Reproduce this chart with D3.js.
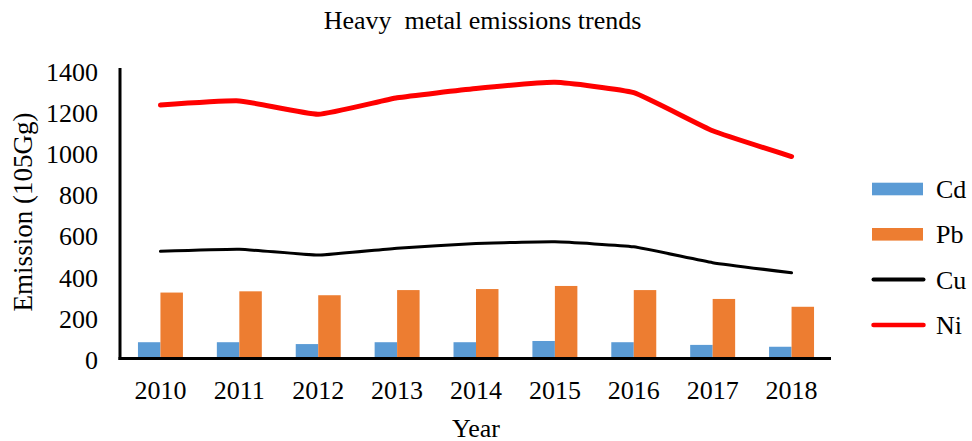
<!DOCTYPE html>
<html>
<head>
<meta charset="utf-8">
<script src="https://cdn.jsdelivr.net/npm/d3@7"></script>
<style>
  html, body { margin: 0; padding: 0; background: #fff; }
  svg, svg text { font-family: "Liberation Serif", "Times New Roman", serif !important; fill: #000; }
</style>
</head>
<body>
<svg id="chart" width="972" height="441" font-family="Liberation Serif"></svg>
<script>
const years = ["2010","2011","2012","2013","2014","2015","2016","2017","2018"];
const cd = [79, 79, 70, 79, 79, 85, 79, 66, 57];
const pb = [320, 326, 307, 332, 337, 352, 332, 289, 251];
const cu = [520, 530, 502, 535, 558, 566, 542, 465, 416];
const ni = [1230, 1250, 1185, 1265, 1310, 1340, 1290, 1105, 980];
const yTicks = [0, 200, 400, 600, 800, 1000, 1200, 1400];
const title = "Heavy  metal emissions trends";
const xTitle = "Year";
const yTitle = "Emission (105Gg)";
const barSeries = [
  { name: "Cd", values: cd, color: "#5B9BD5" },
  { name: "Pb", values: pb, color: "#ED7D31" }
];
const lineSeries = [
  { name: "Cu", values: cu, color: "#000000", width: 3 },
  { name: "Ni", values: ni, color: "#FF0000", width: 5 }
];

const FONT = "'Liberation Serif', 'Times New Roman', serif";
const svg = d3.select("#chart");

const x = d3.scaleBand().domain(years).range([121, 831]).padding(0);
const x1 = d3.scaleBand().domain(barSeries.map(d => d.name))
  .range([x.bandwidth() * 0.215, x.bandwidth() * 0.785]).padding(0);
const y = d3.scaleLinear().domain([0, 1400]).range([358.5, 70]);

// title
svg.append("text")
  .attr("x", 482.5).attr("y", 28.5)
  .attr("text-anchor", "middle")
  .attr("font-family", FONT)
  .style("font-size", "26px")
  .style("white-space", "pre")
  .attr("xml:space", "preserve")
  .text(title);

// bars
barSeries.forEach(s => {
  svg.append("g").selectAll("rect")
    .data(s.values.map((v, i) => ({ year: years[i], v })))
    .join("rect")
    .attr("x", d => x(d.year) + x1(s.name))
    .attr("width", x1.bandwidth())
    .attr("y", d => y(d.v))
    .attr("height", d => y(0) - y(d.v))
    .attr("fill", s.color);
});

// lines
lineSeries.forEach(s => {
  const line = d3.line()
    .x((d, i) => x(years[i]) + x.bandwidth() / 2)
    .y(d => y(d))
    .curve(d3.curveCardinal.tension(0.6));
  svg.append("path")
    .datum(s.values)
    .attr("d", line)
    .attr("fill", "none")
    .attr("stroke", s.color)
    .attr("stroke-width", s.width)
    .attr("stroke-linecap", "round")
    .attr("stroke-linejoin", "round");
});

// y axis
const yAxis = d3.axisLeft(y).tickValues(yTicks).tickSize(0).tickPadding(22).tickFormat(d3.format("d"));
const gy = svg.append("g").attr("transform", "translate(120,0)").call(yAxis);
gy.attr("font-family", FONT).attr("font-size", 26);
gy.select(".domain").remove();
gy.selectAll("text")
  .attr("font-family", FONT)
  .style("font-size", "26px")
  .attr("dy", null)
  .attr("y", 10);
svg.append("line")
  .attr("x1", 120).attr("x2", 120)
  .attr("y1", y(1400) - 2).attr("y2", y(0) + 1.5)
  .attr("stroke", "#000").attr("stroke-width", 3);

// x axis
const xAxis = d3.axisBottom(x).tickSize(0).tickPadding(0);
const gx = svg.append("g").attr("transform", `translate(0,${y(0)})`).call(xAxis);
gx.attr("font-family", FONT).attr("font-size", 26);
gx.select(".domain").remove();
gx.selectAll("text")
  .attr("font-family", FONT)
  .style("font-size", "26px")
  .attr("dy", null)
  .attr("y", 399 - y(0));
svg.append("line")
  .attr("x1", 118.5).attr("x2", 831)
  .attr("y1", y(0)).attr("y2", y(0))
  .attr("stroke", "#000").attr("stroke-width", 3);

// axis titles
svg.append("text")
  .attr("x", 476).attr("y", 436.5)
  .attr("text-anchor", "middle")
  .attr("font-family", FONT)
  .style("font-size", "26px")
  .text(xTitle);
svg.append("text")
  .attr("transform", "translate(32,212) rotate(-90)")
  .attr("text-anchor", "middle")
  .attr("font-family", FONT)
  .style("font-size", "27px")
  .text(yTitle);

// legend
const legendItems = [
  ...barSeries.map(s => ({ name: s.name, color: s.color, type: "bar" })),
  ...lineSeries.map(s => ({ name: s.name, color: s.color, type: "line", width: s.width }))
];
const leg = svg.append("g");
legendItems.forEach((d, i) => {
  const cy = 189 + i * 45.3;
  if (d.type === "bar") {
    leg.append("rect").attr("x", 872).attr("y", cy - 6.3).attr("width", 51).attr("height", 12.6).attr("fill", d.color);
  } else {
    leg.append("line").attr("x1", 873.5).attr("x2", 923.5).attr("y1", cy).attr("y2", cy)
      .attr("stroke", d.color).attr("stroke-width", d.width === 5 ? 4.5 : 4).attr("stroke-linecap", "round");
  }
  leg.append("text").attr("x", 936).attr("y", cy + 9)
    .attr("font-family", FONT)
    .style("font-size", "26px")
    .text(d.name);
});
</script>
</body>
</html>
